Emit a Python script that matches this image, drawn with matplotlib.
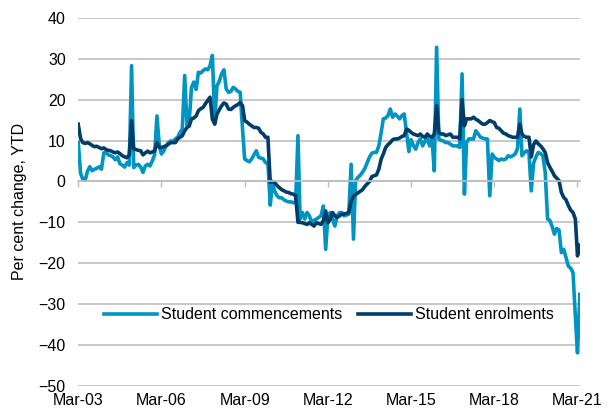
import pandas as pd
import matplotlib
matplotlib.use("Agg")
import matplotlib.pyplot as plt

# monthly, Mar-03 .. Apr-21
start_month = "2003-03-01"

commencements = [
    9.5, 2.0, 0.5, 0.3, 2.5, 3.6, 2.6, 3.0, 3.2, 3.6, 3.0, 7.0,
    7.0, 6.5, 6.3, 6.0, 5.3, 6.0, 4.3, 4.0, 3.5, 4.6, 4.0, 28.3,
    3.4, 4.0, 4.2, 3.5, 2.2, 3.8, 4.2, 3.8, 5.0, 6.5, 16.0, 8.7,
    6.7, 7.5, 8.7, 9.5, 9.9, 9.8, 10.4, 10.8, 12.0, 12.8, 25.9, 13.7,
    14.5, 23.0, 24.3, 22.5, 26.7, 26.5, 27.1, 27.5, 27.3, 28.3, 30.8, 14.5,
    23.4, 24.5, 26.3, 27.3, 22.6, 21.8, 22.0, 23.0, 22.6, 22.0, 21.8, 12.8,
    5.5, 5.1, 4.8, 5.5, 6.5, 7.5, 5.9, 5.7, 5.5, 4.6, 4.6, -5.8,
    -0.5, -2.4, -3.5, -4.0, -4.0, -4.5, -4.8, -5.0, -5.0, -5.2, -5.2, 11.2,
    -9.2, -7.6, -9.2, -7.6, -8.4, -10.0, -9.5, -9.2, -8.8, -8.4, -6.0, -16.6,
    -8.5, -7.6, -9.2, -10.9, -8.4, -7.6, -7.6, -8.4, -8.2, -8.0, 4.2, -14.1,
    0.2, 1.0, 1.5, 2.3, 3.2, 4.6, 6.0, 6.9, 7.1, 7.1, 8.7, 12.0,
    15.3, 15.5, 16.1, 17.7, 15.7, 16.5, 16.0, 15.3, 16.1, 16.5, 12.0, 7.3,
    10.2, 8.8, 7.9, 9.5, 10.4, 8.7, 9.9, 10.4, 8.7, 10.8, 2.6, 32.8,
    10.4, 10.0, 9.9, 9.5, 9.5, 9.1, 8.7, 8.7, 8.7, 8.3, 26.3, -3.1,
    9.5, 10.4, 10.4, 10.4, 12.4, 11.6, 10.8, 10.6, 10.4, 10.4, -3.5, 6.7,
    5.9, 5.5, 5.1, 5.5, 5.3, 5.5, 6.3, 6.0, 6.3, 6.7, 8.0, 17.7,
    6.3, 7.0, 7.5, 7.1, -2.3, 4.5, 6.0, 7.1, 6.8, 6.3, 2.2, -9.2,
    -9.5, -11.0, -12.9, -11.5, -11.9, -17.4, -16.6, -18.6, -20.7, -21.2,
    -22.3, -33.0, -41.9, -27.6,
]

enrolments = [
    14.0, 10.5, 9.5, 9.3, 9.5, 9.2, 8.8, 8.5, 8.6, 8.3, 8.0, 8.2,
    7.8, 7.6, 7.5, 7.2, 7.0, 7.2, 6.8, 6.3, 6.0, 5.8, 6.5, 14.8,
    8.0, 7.8, 7.6, 7.5, 6.5, 7.0, 7.4, 7.0, 7.2, 7.5, 9.5, 8.3,
    8.3, 8.5, 8.7, 9.1, 9.5, 9.5, 9.5, 10.4, 10.8, 11.2, 12.4, 13.2,
    13.5, 15.3, 15.5, 16.0, 17.3, 17.8, 18.1, 19.0, 19.8, 20.6, 15.2, 14.0,
    16.5, 17.5, 18.5, 19.2, 18.9, 17.7, 17.6, 18.1, 18.5, 18.8, 19.3, 18.5,
    14.9, 14.5, 14.0, 13.6, 13.2, 13.2, 13.0, 12.0, 11.6, 10.8, 10.8, -0.2,
    0.0, -0.3, -1.0, -1.5, -2.0, -2.3, -2.6, -2.7, -3.0, -3.1, -3.5, -10.0,
    -10.0, -10.1, -10.3, -10.5, -10.1, -10.5, -10.9, -10.1, -10.3, -10.5, -9.6, -7.2,
    -10.1, -9.2, -7.6, -8.4, -8.8, -8.4, -8.0, -8.0, -7.8, -7.6, -4.8, -3.6,
    -3.2, -2.8, -2.4, -2.0, -1.2, -0.6, 0.0, 1.2, 1.4, 1.6, 3.0, 5.5,
    6.7, 8.3, 9.0, 9.5, 10.2, 10.4, 10.4, 10.6, 11.0, 11.2, 12.8, 12.5,
    12.0, 11.6, 11.4, 11.2, 11.6, 11.0, 10.8, 11.6, 11.0, 10.8, 11.6, 18.5,
    12.0, 11.6, 11.6, 11.2, 11.4, 11.6, 10.8, 10.8, 10.8, 10.4, 20.0, 13.6,
    15.3, 15.3, 15.3, 15.7, 15.2, 14.9, 14.4, 14.0, 14.0, 14.4, 14.9, 14.6,
    14.4, 13.2, 13.0, 12.4, 11.8, 11.6, 11.2, 11.0, 10.8, 10.8, 10.8, 14.0,
    11.6, 11.0, 10.8, 10.8, 6.0, 9.0, 9.9, 9.2, 8.7, 8.0, 7.1, 4.6,
    3.5, 2.5, 1.4, 0.8, 0.2, -2.7, -3.9, -4.5, -5.9, -7.0,
    -7.6, -9.2, -18.2, -15.6,
]

tick_labels = ["Mar-03", "Mar-06", "Mar-09", "Mar-12", "Mar-15", "Mar-18", "Mar-21"]
y_ticks = [-50, -40, -30, -20, -10, 0, 10, 20, 30, 40]

light = "#0094c2"
dark = "#003d6b"
grid_col = "#bfbfbf"

plt.rcParams["font.family"] = ["Liberation Sans", "DejaVu Sans"]
plt.rcParams["font.size"] = 11.5

dates = pd.date_range(start_month, periods=len(enrolments), freq="MS")
tick_pos = [pd.to_datetime(t, format="%b-%y") for t in tick_labels]

fig = plt.figure(figsize=(6.11, 4.15), dpi=100)
ax = fig.add_axes([0.128, 0.07, 0.821, 0.887])

ax.plot(dates, commencements, color=light, lw=2.6, label="Student commencements")
ax.plot(dates, enrolments, color=dark, lw=2.6, label="Student enrolments")

ax.set_ylim(-50, 40)
ax.set_yticks(y_ticks)
ax.set_xlim(dates[0], dates[-1])
ax.grid(axis="y", color=grid_col, lw=1.2)
ax.set_axisbelow(True)
for s in ["left", "right", "top"]:
    ax.spines[s].set_visible(False)

# axis line crosses at zero, small ticks there; labels sit at the bottom
ax.spines["bottom"].set_position(("data", 0))
ax.spines["bottom"].set_color(grid_col)
ax.spines["bottom"].set_linewidth(1.2)
ax.set_xticks(tick_pos)
ax.tick_params(axis="x", direction="out", length=4, width=1, color=grid_col, labelbottom=False)
ax.tick_params(axis="y", length=0, pad=9)

sec = ax.secondary_xaxis(0)
sec.set_xticks(tick_pos, tick_labels)
sec.tick_params(length=0, pad=5)
sec.spines["bottom"].set_visible(False)

ax.set_ylabel("Per cent change, YTD", labelpad=8)

ax.legend(loc="center", bbox_to_anchor=(0.5, 0.193), ncol=2, frameon=False,
          handlelength=3.3, handletextpad=0.25, columnspacing=1.0,
          borderaxespad=0, fontsize=11.5)

fig.savefig("out.png", dpi=100)
